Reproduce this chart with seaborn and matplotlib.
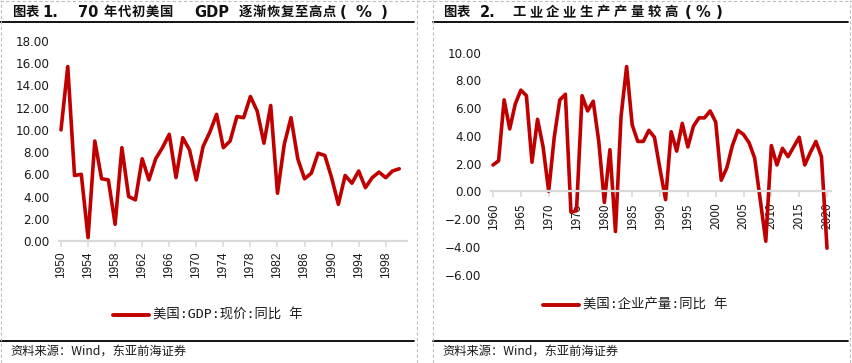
import matplotlib
matplotlib.use("Agg")
import matplotlib.pyplot as plt
import seaborn as sns
import pandas as pd
from matplotlib.lines import Line2D
from matplotlib.ticker import FuncFormatter, FixedLocator

sns.set_theme(style="white")
plt.rcParams['font.family'] = ['Noto Sans CJK SC', 'DejaVu Sans']

# ---------------- data ----------------
gdp_years = list(range(1950, 2001))
gdp_growth = [10.0, 15.7, 5.9, 6.0, 0.3, 9.0, 5.6, 5.5, 1.5, 8.4,
              4.0, 3.7, 7.4, 5.5, 7.4, 8.4, 9.6, 5.7, 9.3, 8.2,
              5.5, 8.5, 9.8, 11.4, 8.4, 9.0, 11.2, 11.1, 13.0, 11.7,
              8.8, 12.2, 4.3, 8.7, 11.1, 7.4, 5.6, 6.1, 7.9, 7.7,
              5.7, 3.3, 5.9, 5.2, 6.3, 4.8, 5.7, 6.2, 5.7, 6.3,
              6.5]
gdp_ticks = list(range(1950, 2000, 4))

ip_years = list(range(1960, 2021))
ip_growth = [1.9, 2.2, 6.6, 4.5, 6.3, 7.3, 6.9, 2.1, 5.2, 3.2,
             0.0, 3.9, 6.6, 7.0, -1.5, -1.4, 6.9, 5.8, 6.5, 3.6,
             -0.8, 3.0, -2.9, 5.4, 9.0, 4.8, 3.6, 3.6, 4.4, 3.9,
             1.6, -0.6, 4.3, 2.9, 4.9, 3.2, 4.7, 5.3, 5.3, 5.8,
             5.0, 0.8, 1.7, 3.3, 4.4, 4.1, 3.5, 2.4, -0.6, -3.6,
             3.3, 1.9, 3.1, 2.5, 3.2, 3.9, 1.9, 2.8, 3.6, 2.5,
             -4.1]
ip_ticks = list(range(1960, 2021, 5))

# title pieces: (text, start px, per-character pitch px or None, kind, size)
title1_parts = [("图表", 12, 13.5, "cjk", 9.6), ("1.", 42, None, "lat", 10.5),
                ("70", 78, None, "lat", 10.5),
                ("年代初美国", 104, 13.9, "cjk", 9.6),
                ("GDP", 194, None, "lat", 10.5),
                ("逐渐恢复至高点", 239, 13.9, "cjk", 9.6),
                ("(", 340, None, "lat", 11), ("%", 356, None, "lat", 11.5),
                (")", 381, None, "lat", 11)]
title2_parts = [("图表", 443, 13.5, "cjk", 9.6), ("2.", 480, None, "lat", 10.5),
                ("工业企业生产产量较高", 512, 16.9, "cjk", 9.6),
                ("(", 685, None, "lat", 11), ("%", 696, None, "lat", 10.5),
                (")", 716, None, "lat", 11)]
label1 = "美国:GDP:现价:同比 年"
label2 = "美国:企业产量:同比 年"
source = "资料来源：Wind，东亚前海证券"

df1 = pd.DataFrame({"year": gdp_years, "value": gdp_growth, "series": label1})
df2 = pd.DataFrame({"year": ip_years, "value": ip_growth, "series": label2})

RED = "#C00000"
W, H = 852, 363

fig = plt.figure(figsize=(W / 100, H / 100), dpi=100)
fig.patch.set_facecolor("white")

def fx(px):
    return px / W

def fy(py):
    return 1 - py / H

ax1 = fig.add_axes([fx(59.3), fy(241), (406.7 - 59.3) / W, 200 / H])
ax2 = fig.add_axes([fx(491), fy(274.5), (830.7 - 491) / W, 221.8 / H])

sns.lineplot(data=df1, x="year", y="value", hue="series", palette=[RED],
             ax=ax1, linewidth=2.6)
sns.lineplot(data=df2, x="year", y="value", hue="series", palette=[RED],
             ax=ax2, linewidth=2.6)

fmt = FuncFormatter(lambda v, _: f"{v:.2f}".replace("-", "\u2212"))

for ax, ticks, xlim, ylim, yt in [
    (ax1, gdp_ticks, (1949.75, 2001.1), (0, 18), range(0, 19, 2)),
    (ax2, ip_ticks, (1959.64, 2020.66), (-6, 10), range(-6, 11, 2)),
]:
    ax.set_xlim(*xlim)
    ax.set_ylim(*ylim)
    ax.xaxis.set_major_locator(FixedLocator(ticks))
    ax.yaxis.set_major_locator(FixedLocator(list(yt)))
    ax.yaxis.set_major_formatter(fmt)
    ax.set_xlabel("")
    ax.set_ylabel("")
    for s in ["top", "right", "left"]:
        ax.spines[s].set_visible(False)
    ax.spines["bottom"].set_color("#D9D9D9")
    ax.spines["bottom"].set_linewidth(1.6)
    ax.tick_params(axis="x", direction="out", length=4.5, width=1.2,
                   color="#D9D9D9", pad=3.2, labelrotation=90,
                   labelsize=8.6, labelcolor="#1a1a1a", bottom=True)
    ax.tick_params(axis="y", length=0, pad=7, labelsize=8.6,
                   labelcolor="#1a1a1a")
    for lab in ax.get_xticklabels():
        lab.set_fontfamily("Liberation Sans")
    for lab in ax.get_yticklabels():
        lab.set_fontfamily("DejaVu Sans")
    ax.set_facecolor("white")
    ax.get_legend().remove()

ax2.spines["bottom"].set_position(("data", 0))

# titles
for parts in (title1_parts, title2_parts):
    for txt, x0, pitch, kind, size in parts:
        if kind == "lat":
            fig.text(fx(x0), fy(12.5), txt, fontsize=size, fontweight="bold",
                     va="center", ha="left", color="#111111",
                     family="DejaVu Sans")
        else:
            for i, ch in enumerate(txt):
                fig.text(fx(x0 + i * pitch), fy(12), ch, fontsize=size,
                         fontweight="bold", va="center", ha="left",
                         color="#111111")

# legends (half-width latin like the original Song-style font)
for x0, y0, lab in [(113, 315, label1), (543, 305, label2)]:
    fig.add_artist(Line2D([fx(x0), fx(x0 + 36)], [fy(y0), fy(y0)],
                          color=RED, lw=2.8, transform=fig.transFigure))
    fig.text(fx(x0 + 40), fy(y0), lab, fontsize=9.6, va="center", ha="left",
             color="#1a1a1a", family=["DejaVu Sans Mono", "Noto Sans CJK SC"])

# rule lines
for xa, xb in [(0, 414), (433, 848)]:
    fig.add_artist(Line2D([fx(xa), fx(xb)], [fy(22), fy(22)], color="black",
                          lw=1.3, transform=fig.transFigure))
    fig.add_artist(Line2D([fx(xa), fx(xb)], [fy(341), fy(341)], color="black",
                          lw=1.3, transform=fig.transFigure))

# dashed frame
for xv in [1, 416.5, 433, 849.5]:
    fig.add_artist(Line2D([fx(xv), fx(xv)], [0, 1], color="#BFBFBF", lw=0.8,
                          ls=(0, (3, 2)), transform=fig.transFigure))
fig.add_artist(Line2D([0, 1], [fy(0.6), fy(0.6)], color="#BFBFBF", lw=0.8,
                      ls=(0, (3, 2)), transform=fig.transFigure))

# sources
fig.text(fx(10), fy(352), source, fontsize=8.8, va="center", ha="left",
         color="#1a1a1a")
fig.text(fx(442), fy(352), source, fontsize=8.8, va="center", ha="left",
         color="#1a1a1a")

fig.savefig("out.png", dpi=100, facecolor="white")
